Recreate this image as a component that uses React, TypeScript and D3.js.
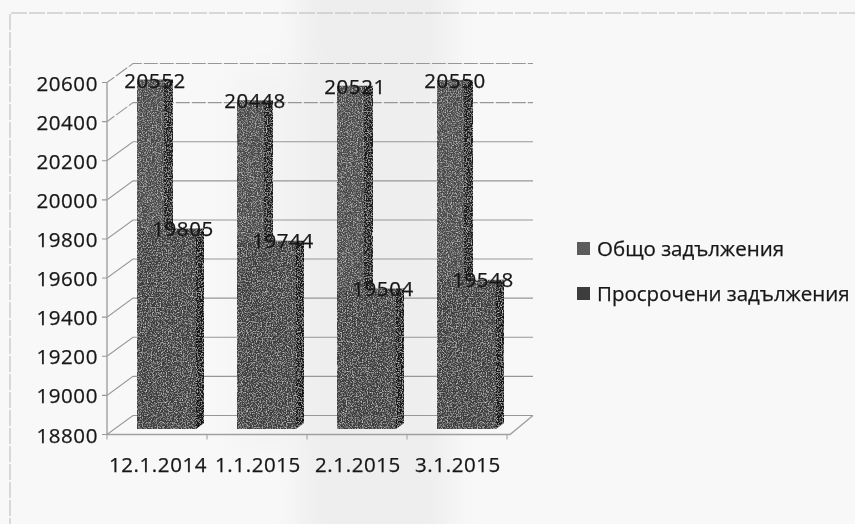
import React from "react";
import * as d3 from "d3";

const categories = ["12.1.2014", "1.1.2015", "2.1.2015", "3.1.2015"];
const totalDebts = [20552, 20448, 20521, 20550];
const overdueDebts = [19805, 19744, 19504, 19548];
const yTicks = [18800, 19000, 19200, 19400, 19600, 19800, 20000, 20200, 20400, 20600];
const legendNames = ["Общо задължения", "Просрочени задължения"];

const W = 855, H = 524;
const font = "'Open Sans', sans-serif";
const depthX = 26, depthY = -19;
const yAxis = d3.scaleLinear().domain([18800, 20600]).range([434.5, 82.5]);
const yBar = d3.scaleLinear().domain([18800, 20600]).range([429, 70]);
const xBand = d3.scaleBand<string>().domain(categories).range([107, 507]);
const barOffset = 30;
const spacing = 0.6;

export default function App() {
  const bw = xBand.bandwidth();
  return (
    <svg width={W} height={H} style={{ position: "absolute", left: 0, top: 0, display: "block" }}>
      <defs>
        <filter id="grain" x="0" y="0" width="100%" height="100%">
          <feTurbulence type="fractalNoise" baseFrequency="0.8" numOctaves="2" seed="7" result="n" />
          <feColorMatrix in="n" type="matrix" values="0 0 0 0 0.6  0 0 0 0 0.6  0 0 0 0 0.6  1.8 1.8 0 0 -1.72" result="specks" />
          <feComposite in="specks" in2="SourceAlpha" operator="in" result="clipped" />
          <feMerge result="m">
            <feMergeNode in="SourceGraphic" />
            <feMergeNode in="clipped" />
          </feMerge>
          <feGaussianBlur in="m" stdDeviation="0.6" />
        </filter>
        <filter id="soft"><feGaussianBlur stdDeviation="0.4" /></filter>
        <filter id="patch" x="-30%" y="-30%" width="160%" height="160%"><feGaussianBlur stdDeviation="14" /></filter>
      </defs>

      <rect width={W} height={H} fill="#f8f8f8" />
      <g filter="url(#patch)">
        <rect x={300} y={-30} width={150} height={590} fill="#eeeeee" />
        <rect x={235} y={70} width={70} height={380} fill="#f3f3f3" />
      </g>
      <path d={`M${W},13H10V${H}`} fill="none" stroke="#b8b8b8" strokeWidth={1} strokeDasharray="16 2" />

      <g filter="url(#soft)">
        {yTicks.map((t) => (
          <path key={t} d={`M102,${yAxis(t)}H107L${107 + depthX},${yAxis(t) + depthY}H533`} stroke="#979797" strokeWidth={1.1} fill="none" strokeDasharray={t > 20300 ? "14 2" : undefined} />
        ))}
        <path d={`M107,${yAxis(20600)}V${yAxis(18800)}H510L533,${yAxis(18800) + depthY}`} fill="none" stroke="#a0a0a0" strokeWidth={1.4} />
        {d3.range(categories.length + 1).map((i) => (
          <path key={i} d={`M${107 + i * bw},${yAxis(18800)}v5`} stroke="#9c9c9c" />
        ))}
      </g>

      {categories.map((c, i) => {
        const x = xBand(c)! + barOffset;
        const yTop = yBar(totalDebts[i]);
        return (
          <g key={c} filter="url(#grain)">
            <rect x={x} y={yTop} width={27} height={429 - yTop} fill="#484848" />
            <rect x={x + 27} y={yTop} width={9} height={429 - yTop} fill="#1c1c1c" />
          </g>
        );
      })}
      {categories.map((c, i) => {
        const x = xBand(c)! + barOffset;
        const yTop = yBar(overdueDebts[i]);
        return (
          <g key={c} filter="url(#grain)">
            <rect x={x} y={yTop} width={59} height={429 - yTop} fill="#3c3c3c" />
            <path d={`M${x + 59},${yTop}h8V${423}l-8,6Z`} fill="#121212" />
          </g>
        );
      })}

      <g filter="url(#soft)" fontFamily={font} fill="#161616" stroke="#161616" strokeWidth={0.25} letterSpacing={spacing} fontSize={20.5}>
        {yTicks.map((t) => (
          <text key={t} x={98} y={yAxis(t) + 8} textAnchor="end">{t}</text>
        ))}
        {categories.map((c) => (
          <text key={c} x={xBand(c)! + bw / 2 + 1} y={472} textAnchor="middle">{c}</text>
        ))}
        {categories.map((c, i) => (
          <text key={c} x={xBand(c)! + 48} y={yBar(totalDebts[i]) + 8} textAnchor="middle">{totalDebts[i]}</text>
        ))}
        {categories.map((c, i) => (
          <text key={c} x={xBand(c)! + 76} y={yBar(overdueDebts[i]) + 7} textAnchor="middle">{overdueDebts[i]}</text>
        ))}
        {legendNames.map((n, i) => (
          <g key={n}>
            <rect x={577} y={242 + i * 45} width={13} height={13} fill={i === 0 ? "#5c5c5c" : "#3c3c3c"} stroke="none" />
            <text x={597} y={256 + i * 45} letterSpacing={0}>{n}</text>
          </g>
        ))}
      </g>
    </svg>
  );
}
